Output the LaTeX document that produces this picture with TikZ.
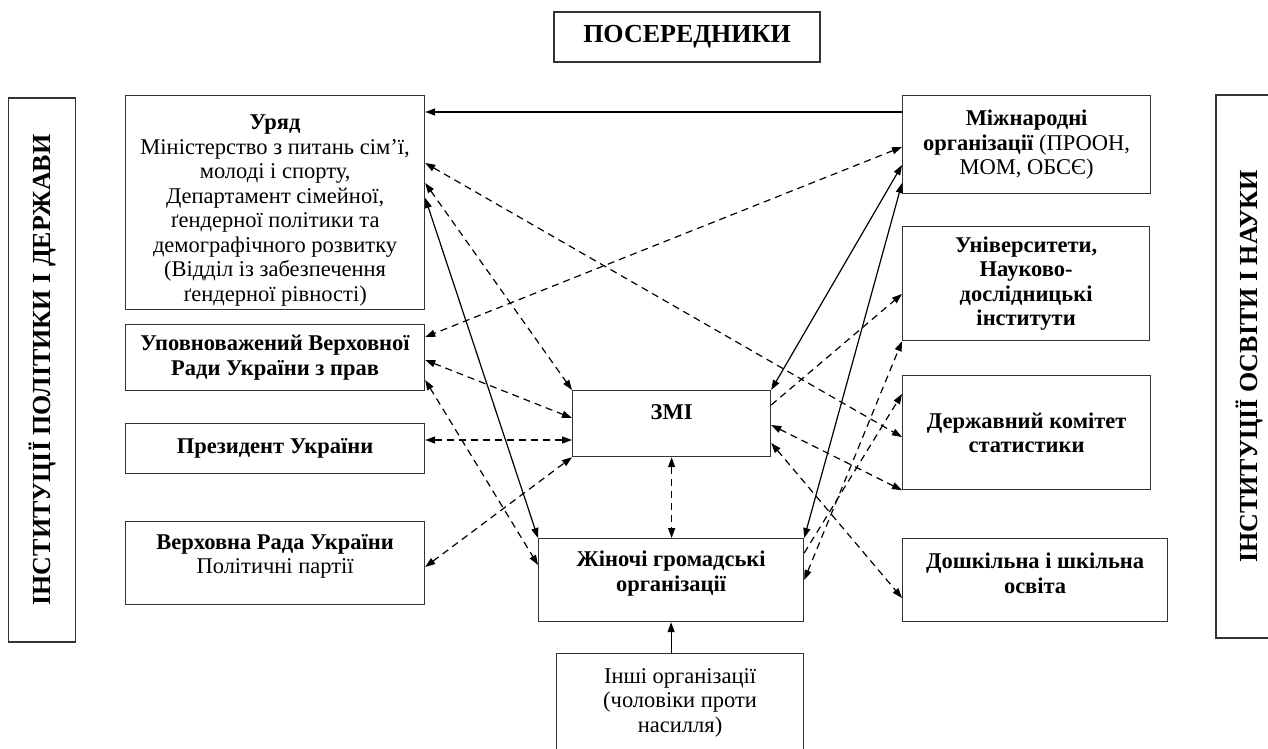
\documentclass[tikz,border=0pt]{standalone}
\usepackage{fontspec}
\setmainfont{Liberation Serif}
\usetikzlibrary{arrows.meta,positioning}

\begin{document}
\begin{tikzpicture}[
  x=1pt,y=-1pt,
  every node/.style={font=\fontsize{22.5}{24.5}\selectfont},
  box/.style={draw=black!80,line width=1.2pt,align=center,anchor=north west,inner sep=2pt},
  bbox/.style={box,font=\fontsize{22.5}{24.5}\selectfont\bfseries},
  head/.style={draw=black!80,line width=1.2pt,align=center,font=\fontsize{26}{28}\selectfont\bfseries},
  lift/.style={text depth=#1},
  sink/.style={text height=#1},
  arr/.style={-{Triangle[length=10pt,width=7pt]},line width=1.2pt},
  sarr/.style={{Triangle[length=10pt,width=7pt]}-{Triangle[length=10pt,width=7pt]},line width=1.2pt},
  darr/.style={sarr,dash pattern=on 7pt off 5pt},
  dsarr/.style={arr,dash pattern=on 7pt off 5pt}
]
\useasboundingbox (0,0) rectangle (1268,749);
\node[head,minimum width=266pt,minimum height=50pt] (posered) at (687,37) {ПОСЕРЕДНИКИ};
\node[head,rotate=90,minimum width=544pt,minimum height=67pt] (polit) at (42,370) {ІНСТИТУЦІЇ ПОЛІТИКИ І ДЕРЖАВИ};
\node[head,rotate=90,minimum width=543pt,minimum height=67pt] (osvita) at (1249.5,366.5) {ІНСТИТУЦІЇ ОСВІТИ І НАУКИ};

\node[box,minimum width=299pt,minimum height=214pt,sink=202pt] (uryad) at (125,95) {\textbf{Уряд}\\Міністерство з питань сім’ї,\\молоді і спорту,\\Департамент сімейної,\\ґендерної політики та\\демографічного розвитку\\(Відділ із забезпечення\\ґендерної рівності)};
\node[bbox,minimum width=299pt,minimum height=66pt] (upovn) at (125,324) {Уповноважений Верховної\\Ради України з прав};
\node[bbox,minimum width=299pt,minimum height=50pt] (prez) at (125,423) {Президент України};
\node[box,minimum width=299pt,minimum height=83pt,lift=18pt] (vrada) at (125,521) {\textbf{Верховна Рада України}\\Політичні партії};

\node[bbox,minimum width=198pt,minimum height=66pt,lift=24pt] (zmi) at (572,390) {ЗМІ};
\node[bbox,minimum width=265pt,minimum height=83pt,lift=18pt] (zhinochi) at (538,538) {Жіночі громадські\\організації};
\node[box,minimum width=247pt,minimum height=98pt] (inshi) at (556,653) {Інші організації\\(чоловіки проти\\насилля)};

\node[box,minimum width=248pt,minimum height=98pt] (mizhn) at (902,95) {\textbf{Міжнародні}\\\textbf{організації} (ПРООН,\\МОМ, ОБСЄ)};
\node[bbox,minimum width=247pt,minimum height=114pt] (univ) at (902,226) {Університети,\\Науково-\\дослідницькі\\інститути};
\node[bbox,minimum width=248pt,minimum height=114pt] (derzh) at (902,375) {Державний комітет\\статистики};
\node[bbox,minimum width=265pt,minimum height=83pt,lift=14pt] (doshk) at (902,538) {Дошкільна і шкільна\\освіта};

\draw[arr] ([yshift=-17pt]mizhn.north west) -- ([yshift=-17pt]uryad.north east);
\draw[darr] ([yshift=-68pt]uryad.north east) -- ([yshift=-62pt]derzh.north west);
\draw[darr] ([yshift=-88pt]uryad.north east) -- (zmi.north west);
\draw[sarr] ([yshift=-103pt]uryad.north east) -- (zhinochi.north west);
\draw[darr] ([yshift=-52pt]mizhn.north west) -- ([yshift=-13pt]upovn.north east);
\draw[sarr] ([yshift=-70pt]mizhn.north west) -- (zmi.north east);
\draw[sarr] ([yshift=-88pt]mizhn.north west) -- (zhinochi.north east);
\draw[dsarr] ([yshift=-15pt]zmi.north east) -- ([yshift=-68pt]univ.north west);
\draw[darr] ([yshift=-42pt]zhinochi.north east) -- (univ.south west);
\draw[dsarr] ([yshift=-15pt]zhinochi.north east) -- ([yshift=-19pt]derzh.north west);
\draw[darr] ([yshift=-35pt]zmi.north east) -- (derzh.south west);
\draw[darr] ([yshift=-53pt]zmi.north east) -- ([yshift=-60pt]doshk.north west);
\draw[darr] (zmi.south) -- (zmi.south |- zhinochi.north);
\draw[arr] (zhinochi.south |- inshi.north) -- (zhinochi.south);
\draw[darr] ([yshift=-36pt]upovn.north east) -- ([yshift=-28pt]zmi.north west);
\draw[darr] ([yshift=-56pt]upovn.north east) -- ([yshift=-27pt]zhinochi.north west);
\draw[darr] ([yshift=-17pt]prez.north east) -- ([yshift=-50pt]zmi.north west);
\draw[darr] ([yshift=-46pt]vrada.north east) -- (zmi.south west);
\end{tikzpicture}
\end{document}
